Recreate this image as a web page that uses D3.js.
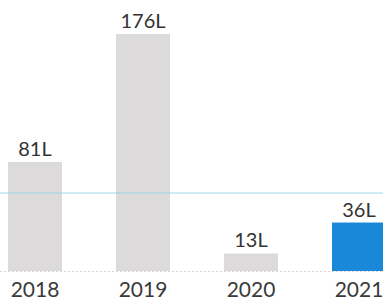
<!DOCTYPE html>
<html>
<head>
<meta charset="utf-8">
<script src="https://cdn.jsdelivr.net/npm/d3@7"></script>
<style>
  html, body { margin: 0; padding: 0; background: #fff; overflow: hidden; }
  svg { display: block; }
</style>
</head>
<body>
<svg id="chart"></svg>
<script>
var width = 383,
    height = 307

var years = ["2018", "2019", "2020", "2021"]
var values = [81, 176, 13, 36]
var labels = ["81L", "176L", "13L", "36L"]
var refValue = 58

var svg = d3.select("#chart")
    .attr("width", width)
    .attr("height", height)

var xScale = d3.scaleBand()
    .domain(years)
    .range([-19, 413])
    .paddingInner(0.5)
    .paddingOuter(0.25)

var yScale = d3.scaleLinear()
    .domain([0, 176])
    .range([271, 34])

// faint dotted baseline
svg.append("line")
    .attr("x1", 0).attr("x2", width)
    .attr("y1", yScale(0) + 0.5).attr("y2", yScale(0) + 0.5)
    .attr("stroke", "#d6d6d6")
    .attr("stroke-dasharray", "2,2")

svg.selectAll(".bar")
    .data(values)
    .enter()
    .append("rect")
    .attr("class", "bar")
    .attr("x", function(d, i) { return xScale(years[i]) })
    .attr("width", xScale.bandwidth())
    .attr("y", function(d) { return yScale(d) })
    .attr("height", function(d) { return yScale(0) - yScale(d) })
    .attr("fill", function(d, i) { return i == 3 ? "#1a88d9" : "#dcdada" })

// reference line
svg.append("line")
    .attr("x1", 0).attr("x2", width)
    .attr("y1", yScale(refValue)).attr("y2", yScale(refValue))
    .attr("stroke", "#8fd3e3")
    .attr("stroke-opacity", 0.6)
    .attr("stroke-width", 1.5)

svg.selectAll(".val")
    .data(values)
    .enter()
    .append("text")
    .attr("class", "val")
    .attr("x", function(d, i) { return xScale(years[i]) + xScale.bandwidth() / 2 })
    .attr("y", function(d) { return yScale(d) - 6 })
    .attr("text-anchor", "middle")
    .attr("font-family", "Lato, sans-serif")
    .attr("font-size", 20)
    .attr("fill", "#333")
    .text(function(d, i) { return labels[i] })

svg.selectAll(".year")
    .data(years)
    .enter()
    .append("text")
    .attr("class", "year")
    .attr("x", function(d) { return xScale(d) + xScale.bandwidth() / 2 })
    .attr("y", 297)
    .attr("text-anchor", "middle")
    .attr("font-family", "Lato, sans-serif")
    .attr("font-size", 21)
    .attr("fill", "#3a3a3a")
    .text(function(d) { return d })
</script>
</body>
</html>
